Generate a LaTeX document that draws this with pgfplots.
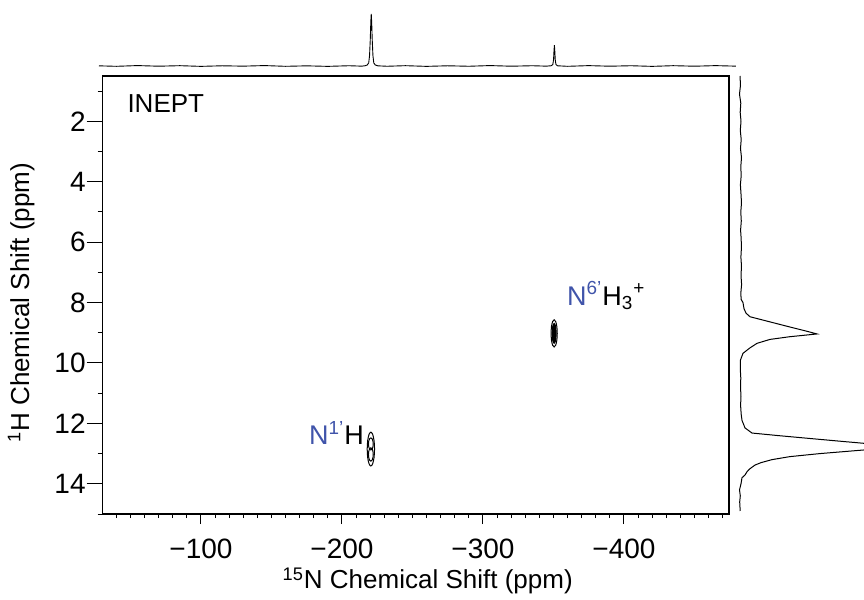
\documentclass[border=0pt]{standalone}
\usepackage{fontspec}
\setmainfont{Liberation Sans}
\usepackage{pgfplots}
\pgfplotsset{compat=1.18}
\definecolor{nblue}{RGB}{64,84,170}
\newcommand{\fs}{\fontsize{13}{15}\selectfont}
\newcommand{\ft}{\fontsize{14}{16}\selectfont}
\newcommand{\fn}{\fontsize{13.5}{15}\selectfont}
\begin{document}
\begin{tikzpicture}
\path[use as bounding box] (0,0) rectangle (432pt,300pt);
% ---------------- main 2D axis ----------------
\begin{axis}[
  at={(51.35pt,43pt)}, anchor=south west,
  scale only axis, width=313.15pt, height=219pt,
  xmin=-474.5, xmax=-30.3, x dir=reverse,
  ymin=0.5, ymax=15, y dir=reverse,
  xtick={-100,-200,-300,-400}, xticklabels={−100,−200,−300,−400},
  minor xtick={-470,-460,...,-40},
  ytick={2,4,6,8,10,12,14}, yticklabels={2,4,6,8,10,12,14},
  minor ytick={1,3,5,7,9,11,13,15},
  tick pos=left, tick align=outside,
  major tick length=5pt, minor tick length=2pt,
  ytick style={/pgfplots/major tick length=8pt, /pgfplots/minor tick length=2.5pt},
  tick style={black, line width=0.5pt},
  axis line style={line width=0.6pt},
  ticklabel style={font=\ft},
  xticklabel style={yshift=-4pt},
  xlabel={\textsuperscript{15}N Chemical Shift (ppm)},
  ylabel={\textsuperscript{1}H Chemical Shift (ppm)},
  label style={font=\fs},
  xlabel style={at={(axis description cs:0.519,-0.153)}, anchor=center},
  ylabel style={at={(axis description cs:-0.13,0.482)}, anchor=center},
]
% contour N1'H
\addplot[black, line width=0.5pt, smooth] coordinates {
(-217.9,12.85) (-218.25,13.13) (-219.2,13.335) (-220.5,13.41) (-221.8,13.335) (-222.75,13.13) (-223.1,12.85) (-222.75,12.57) (-221.8,12.365) (-220.5,12.29) (-219.2,12.365) (-218.25,12.57) (-217.9,12.85)};
\addplot[black, line width=0.5pt, smooth] coordinates {
(-218.8,12.68) (-219.03,12.78) (-219.65,12.853) (-220.5,12.88) (-221.35,12.853) (-221.97,12.78) (-222.2,12.68) (-221.97,12.58) (-221.35,12.507) (-220.5,12.48) (-219.65,12.507) (-219.03,12.58) (-218.8,12.68)};
\addplot[black, line width=0.5pt, smooth] coordinates {
(-218.8,13.03) (-219.03,13.14) (-219.65,13.22) (-220.5,13.25) (-221.35,13.22) (-221.97,13.14) (-222.2,13.03) (-221.97,12.92) (-221.35,12.84) (-220.5,12.81) (-219.65,12.84) (-219.03,12.92) (-218.8,13.03)};
% contour N6'H3+
\addplot[black, line width=0.5pt, smooth] coordinates {
(-348.3,9.02) (-348.6,9.245) (-349.4,9.41) (-350.5,9.47) (-351.6,9.41) (-352.4,9.245) (-352.7,9.02) (-352.4,8.795) (-351.6,8.63) (-350.5,8.57) (-349.4,8.63) (-348.6,8.795) (-348.3,9.02)};
\addplot[black, fill=black, line width=0.5pt, smooth] coordinates {
(-349.1,9.02) (-349.29,9.185) (-349.8,9.306) (-350.5,9.35) (-351.2,9.306) (-351.71,9.185) (-351.9,9.02) (-351.71,8.855) (-351.2,8.734) (-350.5,8.69) (-349.8,8.734) (-349.29,8.855) (-349.1,9.02)};
\node[anchor=west, inner sep=0pt, font=\fontsize{13}{15}\selectfont] at (axis description cs:0.039,0.936) {INEPT};
\node[anchor=base west, inner sep=0pt, font=\fn] at (axis description cs:0.329,0.158) {\textcolor{nblue}{N\textsuperscript{1'}}H};
\node[anchor=base west, inner sep=0pt, font=\fn] at (axis description cs:0.741,0.477) {\textcolor{nblue}{N\textsuperscript{6'}}H\textsubscript{3}\textsuperscript{+}};
\end{axis}
% ---------------- top projection (15N) ----------------
\begin{axis}[
  at={(49.5pt,265pt)}, anchor=south west,
  scale only axis, width=318.5pt, height=35pt,
  xmin=-479.5, xmax=-27.7, x dir=reverse,
  ymin=-7.69, ymax=126.9, hide axis,
]
\addplot[black, line width=0.45pt] coordinates {
(-27.7,0.3) (-40,-0.6) (-55,0.8) (-70,-0.4) (-85,0.6) (-100,-0.7) (-115,0.4) (-130,-0.3) (-145,0.8) (-160,-0.6) (-175,0.3) (-190,-0.7) (-205,0.5) (-214,-0.3) (-216.5,0.5) (-218,2) (-219,6) (-219.6,20) (-220.1,50) (-220.5,85) (-220.8,100) (-221.1,85) (-221.5,50) (-222.0,20) (-222.6,6) (-223.6,2) (-225.5,0.3) (-232,-0.5) (-245,0.6) (-260,-0.7) (-275,0.4) (-290,-0.5) (-305,0.8) (-320,-0.4) (-335,0.5) (-345,-0.3) (-348.5,0.5) (-349.6,3) (-350.1,12) (-350.4,28) (-350.7,40) (-351.0,28) (-351.3,12) (-351.8,3) (-352.9,0.4) (-360,-0.6) (-375,0.7) (-390,-0.4) (-405,0.5) (-420,-0.7) (-435,0.6) (-450,-0.4) (-465,0.7) (-479.5,-0.3)};
\end{axis}
% ---------------- right projection (1H) ----------------
\begin{axis}[
  at={(367.5pt,43pt)}, anchor=south west,
  scale only axis, width=64.5pt, height=219pt,
  xmin=-5, xmax=124,
  ymin=0.5, ymax=15, y dir=reverse, hide axis,
]
\addplot[black, line width=0.5pt] coordinates {
(0,0.5) (0.5,0.8) (-0.5,1.1) (0.8,1.4) (0.2,1.7) (1.0,2.0) (0.3,2.3) (1.2,2.6) (0.5,2.9) (1.5,3.2) (0.8,3.5) (1.2,3.8) (0.4,4.1) (1.0,4.4) (1.5,4.7) (0.8,5.0) (1.3,5.3) (0.6,5.6) (1.2,5.9) (1.4,6.2) (0.9,6.5) (1.5,6.8) (1.0,7.1) (1.6,7.4) (0.8,7.7) (1.2,7.9) (3,8.0) (4,8.2) (6,8.35) (10,8.47) (30,8.64) (50,8.81) (68,8.96) (77,9.04) (50,9.13) (30,9.22) (17,9.35) (10,9.5) (3,9.68) (0.5,9.9) (0.3,10.2) (0.8,10.5) (0.5,10.8) (1.0,11.1) (0.6,11.4) (1.2,11.7) (2,11.9) (5,12.15) (12,12.32) (40,12.41) (70,12.5) (100,12.59) (124,12.66) (140,12.72) (124,12.88) (80,13.0) (50,13.1) (32,13.2) (21,13.3) (15,13.38) (10,13.5) (7,13.6) (5,13.71) (2,13.8) (1,14.0) (-0.5,14.2) (0.3,14.4) (-0.3,14.6) (0.2,14.9)};
\end{axis}
\end{tikzpicture}
\end{document}
